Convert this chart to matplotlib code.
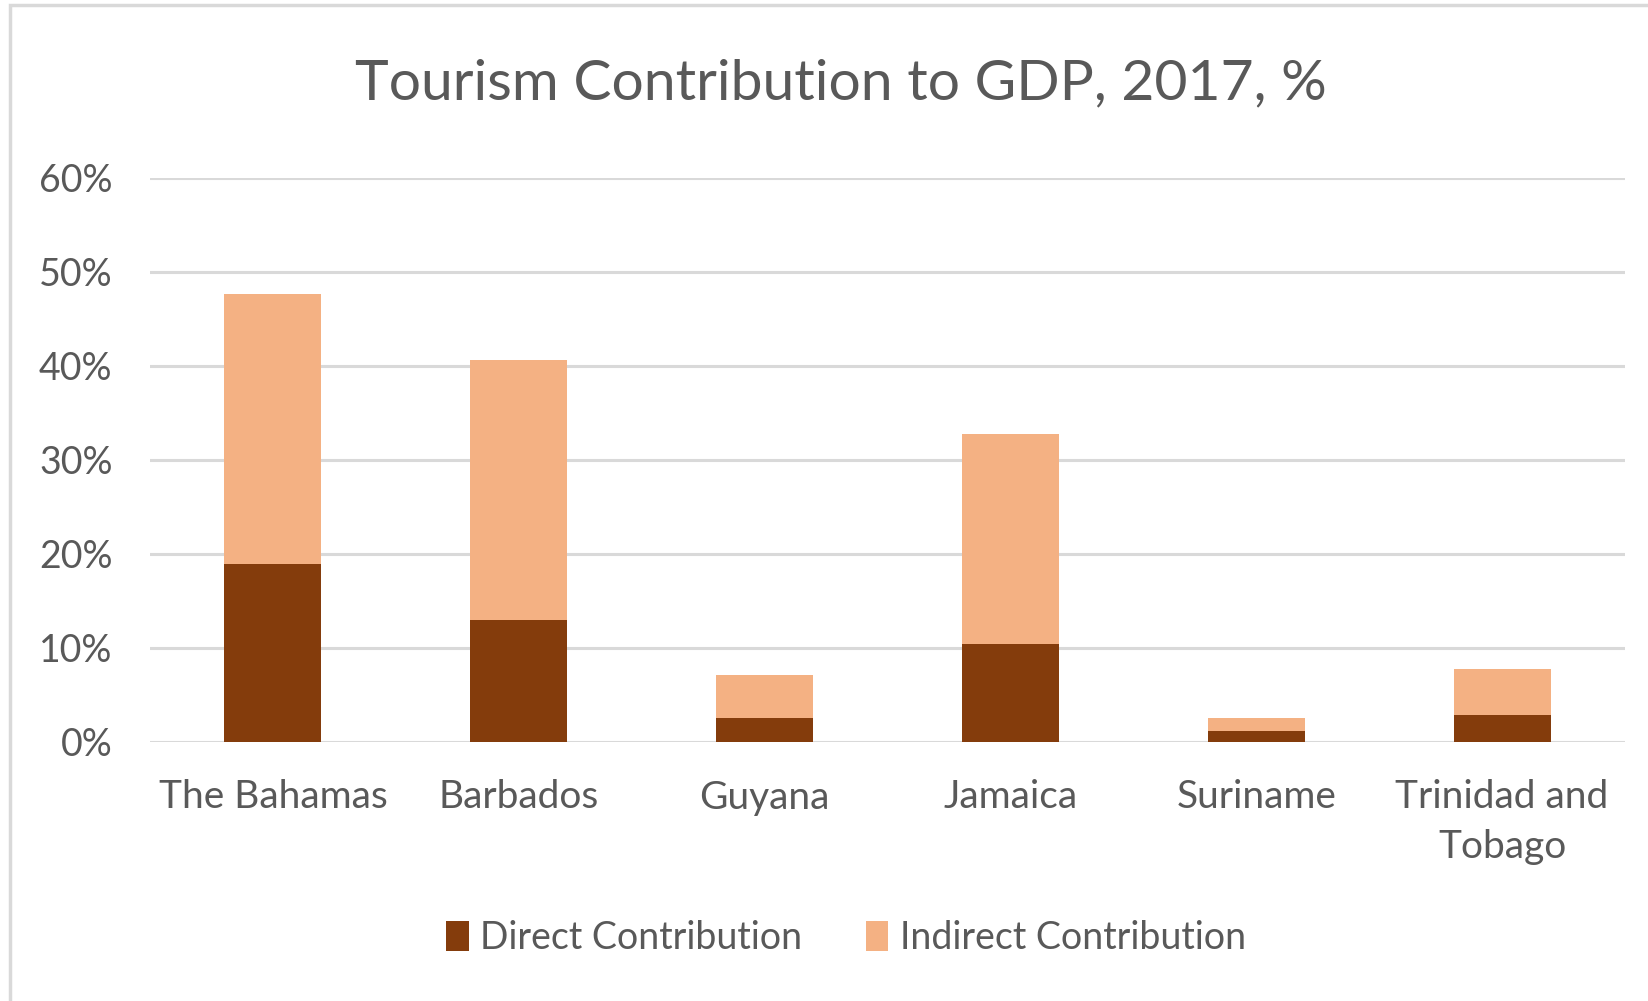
import numpy as np
import matplotlib
matplotlib.use('Agg')
import matplotlib.pyplot as plt
from matplotlib.patches import Rectangle

countries = ['The Bahamas', 'Barbados', 'Guyana', 'Jamaica', 'Suriname', 'Trinidad and\nTobago']
direct = [18.9, 13.0, 2.6, 10.4, 1.2, 2.9]
indirect = [28.8, 27.6, 4.5, 22.4, 1.4, 4.9]

DIRECT_COLOR = '#843C0C'
INDIRECT_COLOR = '#F4B183'
TEXT = '#595959'
GRID = '#D9D9D9'

plt.rcParams['font.family'] = ['Lato', 'DejaVu Sans']

fig = plt.figure(figsize=(16.49, 10.01), dpi=100)
W, H = 1649, 1001

# light chart-area border
fig.patches.append(Rectangle((10 / W, -0.05), 1.2, 1 - 5 / H + 0.05, transform=fig.transFigure,
                             facecolor='none', edgecolor='#D9D9D9', linewidth=2.5))

ax = fig.add_axes([150 / W, 1 - 742 / H, (1625 - 150) / W, (742 - 178) / H])

x = np.arange(len(countries))
ax.bar(x, direct, width=0.395, color=DIRECT_COLOR, label='Direct Contribution', zorder=3)
ax.bar(x, indirect, width=0.395, bottom=direct, color=INDIRECT_COLOR,
       label='Indirect Contribution', zorder=3)

ax.set_xlim(-0.5, len(countries) - 0.5)
ax.set_ylim(0, 60)
ax.set_yticks(np.arange(0, 61, 10))
ax.set_yticklabels([f'{v}%' for v in range(0, 61, 10)])
ax.set_xticks(x)
ax.set_xticklabels(countries, linespacing=1.45)

ax.yaxis.grid(True, color=GRID, linewidth=2.2, zorder=0)
ax.set_axisbelow(True)
for s in ax.spines.values():
    s.set_visible(False)
ax.tick_params(axis='both', length=0, colors=TEXT)
ax.tick_params(axis='y', pad=27, labelsize=27)
ax.tick_params(axis='x', pad=27, labelsize=28)

fig.text(0.51, 0.916, 'Tourism Contribution to GDP, 2017, %', ha='center', va='center',
         fontsize=41, color=TEXT)

fig.legend(loc='center', bbox_to_anchor=(0.513, 0.063), ncol=2, frameon=False,
           fontsize=27, labelcolor=TEXT, handlelength=0.6, handleheight=0.85,
           handletextpad=0.3, columnspacing=1.7)

fig.savefig('out.png', dpi=100, facecolor='white')
